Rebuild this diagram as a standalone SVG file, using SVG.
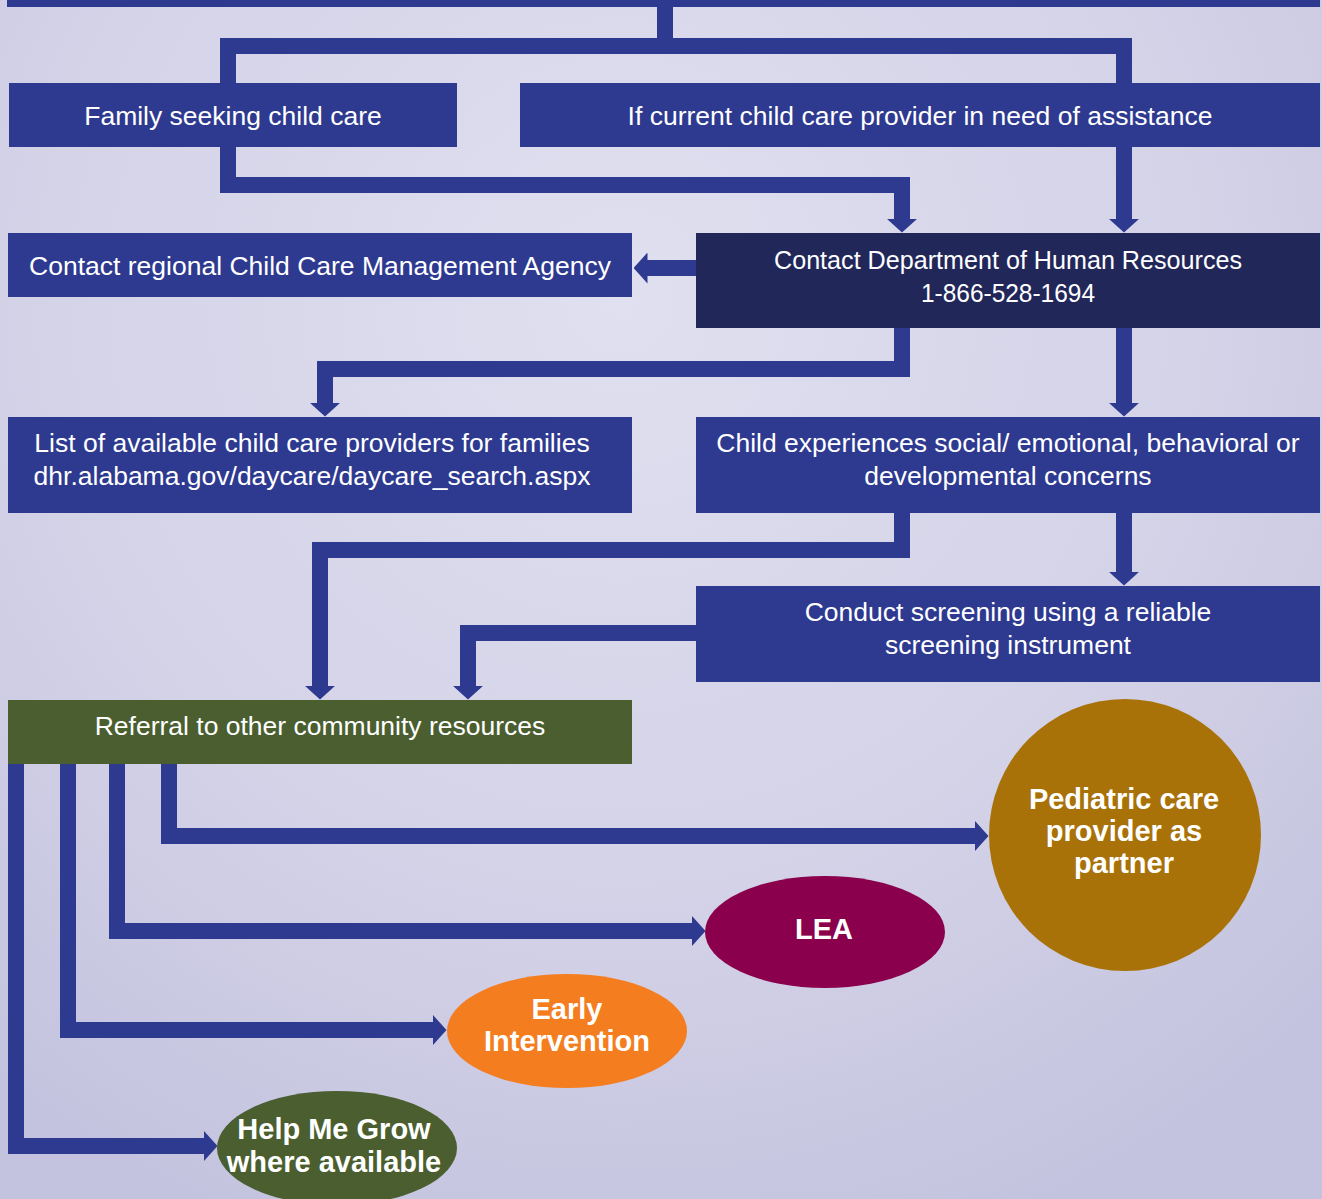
<svg xmlns="http://www.w3.org/2000/svg" width="1322" height="1199" viewBox="0 0 1322 1199">
<defs>
<radialGradient id="bg" cx="620" cy="300" r="1000" gradientUnits="userSpaceOnUse">
<stop offset="0" stop-color="#e1e0f0"/>
<stop offset="0.6" stop-color="#d3d2e7"/>
<stop offset="1" stop-color="#c4c3df"/>
</radialGradient>
<marker id="ah" markerUnits="userSpaceOnUse" viewBox="0 0 14 31" markerWidth="14" markerHeight="31" refX="0.5" refY="15.5" orient="auto">
<path d="M0,0 L14,15.5 L0,31 Z" fill="#2e3990"/>
</marker>
<style>
.box{fill:#2e3990}
.dark{fill:#22275a}
.green{fill:#4a5e2f}
.t{font-family:"Liberation Sans",Arial,Helvetica,sans-serif;font-size:26.5px;fill:#ffffff;text-anchor:middle}
.b{font-family:"Liberation Sans",Arial,Helvetica,sans-serif;font-size:29px;font-weight:bold;fill:#ffffff;text-anchor:middle}
.c{fill:none;stroke:#2e3990;stroke-width:16;stroke-linejoin:miter;stroke-linecap:butt}
.ca{fill:none;stroke:#2e3990;stroke-width:16;stroke-linejoin:miter;stroke-linecap:butt;marker-end:url(#ah)}
</style>
</defs>
<rect width="1322" height="1199" fill="url(#bg)"/>

<g id="connectors">
<path class="c" d="M665,7 V46"/>
<path class="c" d="M228,83 V46 H1124 V83"/>
<path class="ca" d="M228,147 V185 H902 V219"/>
<path class="ca" d="M1124,147 V219"/>
<path class="ca" d="M696,268 H647"/>
<path class="ca" d="M902,328 V369 H325 V403"/>
<path class="ca" d="M1124,328 V403"/>
<path class="ca" d="M902,513 V550 H320 V686"/>
<path class="ca" d="M1124,513 V572"/>
<path class="ca" d="M696,633 H468 V686"/>
<path class="ca" d="M16,764 V1146 H204"/>
<path class="ca" d="M68,764 V1030 H433"/>
<path class="ca" d="M117,764 V931 H692"/>
<path class="ca" d="M169,764 V836 H975"/>
</g>

<g id="top-bar"><rect class="box" x="7" y="0" width="1313" height="7"/></g>

<g id="family"><rect class="box" x="9" y="83" width="448" height="64"/>
<text class="t" x="233" y="125">Family seeking child care</text></g>

<g id="provider"><rect class="box" x="520" y="83" width="800" height="64"/>
<text class="t" x="920" y="125">If current child care provider in need of assistance</text></g>

<g id="regional"><rect class="box" x="8" y="233" width="624" height="64"/>
<text class="t" x="320" y="275">Contact regional Child Care Management Agency</text></g>

<g id="dhr"><rect class="dark" x="696" y="233" width="624" height="95"/>
<text class="t" x="1008" y="269" textLength="468" lengthAdjust="spacingAndGlyphs">Contact Department of Human Resources</text>
<text class="t" x="1008" y="302" textLength="174" lengthAdjust="spacingAndGlyphs">1-866-528-1694</text></g>

<g id="list"><rect class="box" x="8" y="417" width="624" height="96"/>
<text class="t" x="312" y="452">List of available child care providers for families</text>
<text class="t" x="312" y="485">dhr.alabama.gov/daycare/daycare_search.aspx</text></g>

<g id="child"><rect class="box" x="696" y="417" width="624" height="96"/>
<text class="t" x="1008" y="452">Child experiences social/ emotional, behavioral or</text>
<text class="t" x="1008" y="485">developmental concerns</text></g>

<g id="screening"><rect class="box" x="696" y="586" width="624" height="96"/>
<text class="t" x="1008" y="621">Conduct screening using a reliable</text>
<text class="t" x="1008" y="654">screening instrument</text></g>

<g id="referral"><rect class="green" x="8" y="700" width="624" height="64"/>
<text class="t" x="320" y="735">Referral to other community resources</text></g>

<g id="pediatric"><ellipse cx="1125" cy="835" rx="136" ry="136" fill="#a97209"/>
<text class="b" x="1124" y="809">Pediatric care</text>
<text class="b" x="1124" y="841">provider as</text>
<text class="b" x="1124" y="873">partner</text></g>

<g id="lea"><ellipse cx="825" cy="932" rx="120" ry="56" fill="#8b004c"/>
<text class="b" x="824" y="939">LEA</text></g>

<g id="early"><ellipse cx="567" cy="1031" rx="120" ry="57" fill="#f47d20"/>
<text class="b" x="567" y="1019">Early</text>
<text class="b" x="567" y="1051">Intervention</text></g>

<g id="helpmegrow"><ellipse cx="337" cy="1148" rx="120" ry="57" fill="#4a5e2f"/>
<text class="b" x="334" y="1139">Help Me Grow</text>
<text class="b" x="334" y="1172">where available</text></g>
</svg>
